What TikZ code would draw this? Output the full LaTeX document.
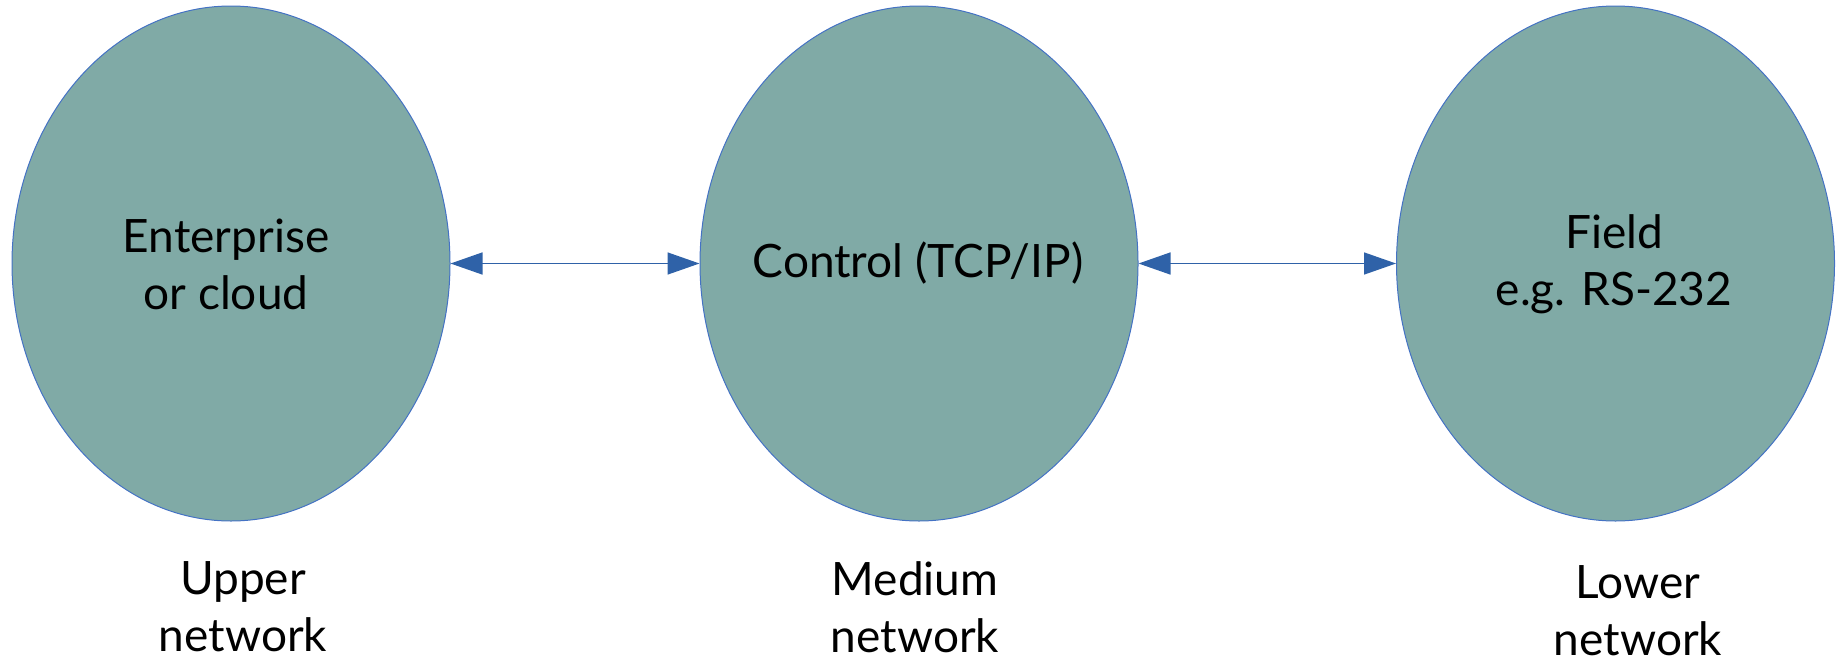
\documentclass[tikz,border=0pt]{standalone}
\usepackage{fontspec}
\setmainfont{Lato}
\usetikzlibrary{arrows.meta,shapes.geometric}
\definecolor{netfill}{HTML}{80AAA6}
\definecolor{netedge}{HTML}{4472C4}
\definecolor{linkblue}{HTML}{2F62A8}
\tikzset{
  net/.style={ellipse, fill=netfill, draw=netedge, line width=1pt,
    minimum width=438pt, minimum height=515pt, inner sep=0pt},
  lbl/.style={font=\fontsize{46}{57}\selectfont, align=center, text=black, inner sep=0pt},
  link/.style={draw=linkblue, line width=1.5pt,
    {Triangle[length=32pt,width=22pt]}-{Triangle[length=32pt,width=22pt]}}
}
\begin{document}
\begin{tikzpicture}[x=1pt,y=-1pt]
\useasboundingbox (0,0) rectangle (1844,664);
\node[net] (up) at (231,263.5) {};
\node[net] (mid) at (919,263.5) {};
\node[net] (low) at (1615.5,263.5) {};
\node[lbl] (upt) at (226,264.5) {Enterprise\\or cloud};
\node[lbl] (midt) at (918,263) {Control (TCP/IP)};
\node[lbl] (lowt) at (1614,264.5) {Field\\e.g. RS-232};
\node[lbl] (upl) at (243,607) {Upper\\network};
\node[lbl] (midl) at (915,607) {Medium\\network};
\node[lbl] (lowl) at (1638,611) {Lower\\network};
\draw[link] (up.east) -- (mid.west);
\draw[link] (mid.east) -- (low.west);
\end{tikzpicture}
\end{document}
